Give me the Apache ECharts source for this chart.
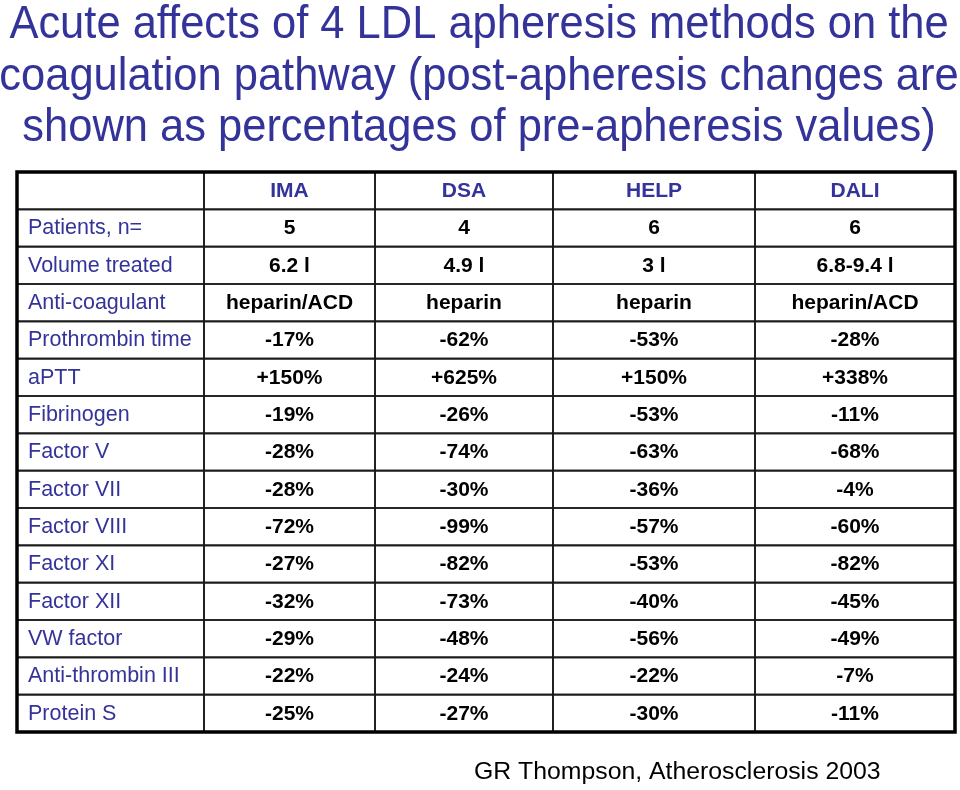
<!DOCTYPE html>
<html>
<head>
<meta charset="utf-8">
<script src="https://cdn.jsdelivr.net/npm/echarts@6/dist/echarts.min.js"></script>
<style>
html,body{margin:0;padding:0;background:#fff;}
#chart{width:960px;height:790px;}
</style>
</head>
<body>
<div id="chart"></div>
<script>
// ---- data ----
const titleLines = [
  'Acute affects of 4 LDL apheresis methods on the',
  'coagulation pathway (post-apheresis changes are',
  'shown as percentages of pre-apheresis values)'
];
const sourceText = 'GR Thompson, Atherosclerosis 2003';
const methods = ['IMA', 'DSA', 'HELP', 'DALI'];
const rowLabels = ['Patients, n=', 'Volume treated', 'Anti-coagulant', 'Prothrombin time', 'aPTT',
  'Fibrinogen', 'Factor V', 'Factor VII', 'Factor VIII', 'Factor XI', 'Factor XII',
  'VW factor', 'Anti-thrombin III', 'Protein S'];
const IMA  = ['5', '6.2 l', 'heparin/ACD', '-17%', '+150%', '-19%', '-28%', '-28%', '-72%', '-27%', '-32%', '-29%', '-22%', '-25%'];
const DSA  = ['4', '4.9 l', 'heparin', '-62%', '+625%', '-26%', '-74%', '-30%', '-99%', '-82%', '-73%', '-48%', '-24%', '-27%'];
const HELP = ['6', '3 l', 'heparin', '-53%', '+150%', '-53%', '-63%', '-36%', '-57%', '-53%', '-40%', '-56%', '-22%', '-30%'];
const DALI = ['6', '6.8-9.4 l', 'heparin/ACD', '-28%', '+338%', '-11%', '-68%', '-4%', '-60%', '-82%', '-45%', '-49%', '-7%', '-11%'];

// ---- layout ----
const NAVY = '#333399';
const FONT = 'Liberation Sans, Arial, Helvetica, sans-serif';
const colEdges = [17, 204, 375, 553, 755, 955];
const tableTop = 172, tableBottom = 732;
const rowKeys = ['header'].concat(rowLabels);

const columns = [
  { name: 'label', cells: [''].concat(rowLabels) }
].concat(methods.map((m, i) => ({ name: m, cells: [m].concat([IMA, DSA, HELP, DALI][i]) })));

const chart = echarts.init(document.getElementById('chart'), null, { renderer: 'canvas' });

const grids = [], xAxes = [], yAxes = [], series = [];
columns.forEach((col, ci) => {
  grids.push({ left: colEdges[ci], width: colEdges[ci + 1] - colEdges[ci], top: tableTop, height: tableBottom - tableTop, containLabel: false });
  xAxes.push({ type: 'category', gridIndex: ci, data: [col.name], show: false });
  yAxes.push({ type: 'category', gridIndex: ci, data: rowKeys, inverse: true, show: false });
  series.push({
    type: 'custom',
    xAxisIndex: ci, yAxisIndex: ci,
    data: col.cells.map((t, ri) => [0, ri, t]),
    encode: { x: 0, y: 1 },
    silent: true,
    renderItem: function (params, api) {
      const ri = api.value(1);
      const txt = col.cells[ri];
      const p = api.coord([0, ri]);
      const s = api.size([1, 1]);
      const x0 = p[0] - s[0] / 2, y0 = p[1] - s[1] / 2;
      const isLabel = ci === 0;
      const isHeader = ri === 0;
      return {
        type: 'group',
        children: [
          { type: 'rect', shape: { x: x0, y: y0, width: s[0], height: s[1] },
            style: { fill: 'none', stroke: '#1a1a1a', lineWidth: 1.6 } },
          { type: 'text',
            style: {
              text: txt,
              x: isLabel ? x0 + 11 : p[0],
              y: p[1] + 0.5,
              align: isLabel ? 'left' : 'center',
              verticalAlign: 'middle',
              fill: (isLabel || isHeader) ? NAVY : '#000',
              font: (isLabel ? 'normal 21.5px ' : 'bold 21px ') + FONT
            } }
        ]
      };
    }
  });
});

const titleY = [25, 77, 128];
const graphics = titleLines.map((t, i) => ({
  type: 'text', x: 479, y: titleY[i], scaleX: 0.945,
  style: { text: t, fill: NAVY, font: 'normal 46px ' + FONT, align: 'center', verticalAlign: 'middle' }
}));
graphics.push({
  type: 'rect', shape: { x: 17, y: tableTop, width: 955 - 17, height: tableBottom - tableTop },
  style: { fill: 'none', stroke: '#000', lineWidth: 3.5 }, z: 100
});
graphics.push({
  type: 'text', x: 474, y: 772,
  style: { text: sourceText, fill: '#000', font: 'normal 24.8px ' + FONT, verticalAlign: 'middle', align: 'left' }
});

chart.setOption({
  animation: false,
  backgroundColor: '#fff',
  grid: grids,
  xAxis: xAxes,
  yAxis: yAxes,
  series: series,
  graphic: graphics
});
</script>
</body>
</html>
